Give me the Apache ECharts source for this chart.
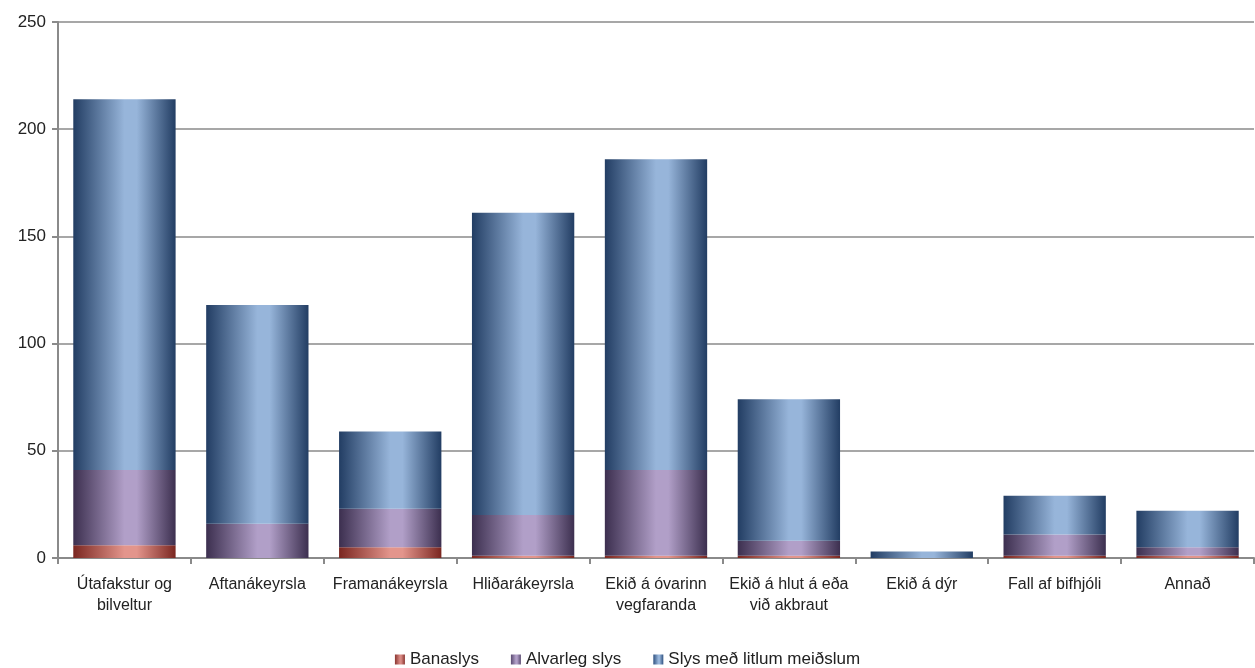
<!DOCTYPE html>
<html><head><meta charset="utf-8">
<script src="https://cdn.jsdelivr.net/npm/echarts@6/dist/echarts.min.js"></script>
<style>html,body{margin:0;padding:0;background:#fff}#c{width:1255px;height:668px}</style>
</head><body><div id="c"></div>
<script>
const categories = ['Útafakstur og\nbilveltur','Aftanákeyrsla','Framanákeyrsla','Hliðarákeyrsla','Ekið á óvarinn\nvegfaranda','Ekið á hlut á eða\nvið akbraut','Ekið á dýr','Fall af bifhjóli','Annað'];
const banaslys = [6, 0, 5, 1, 1, 1, 0, 1, 1];
const alvarleg = [35, 16, 18, 19, 40, 7, 0, 10, 4];
const litlum = [173, 102, 36, 141, 145, 66, 3, 18, 17];
const seriesNames = ['Banaslys','Alvarleg slys','Slys með litlum meiðslum'];
const yTicks = [0, 50, 100, 150, 200, 250];

function grad(edge, mid) {
  return new echarts.graphic.LinearGradient(0,0,1,0,[
    {offset:0,color:edge},{offset:0.5,color:mid},{offset:0.62,color:mid},{offset:1,color:edge}]);
}
const styles = [
  {color: grad('#7a2620','#e3958c'), legend: grad('#8a3530','#d98a84')},
  {color: grad('#3c2f4f','#b19fc8'), legend: grad('#5a4a70','#b19fc8')},
  {color: grad('#223d63','#97b5da'), legend: grad('#2f5180','#97b5da')}
];
const dataSets = [banaslys, alvarleg, litlum];
const chart = echarts.init(document.getElementById('c'));
chart.setOption({
  animation:false,
  textStyle:{fontFamily:'Liberation Sans, Arial, sans-serif'},
  grid:{left:58,right:1,top:22,bottom:110,containLabel:false},
  legend:{top:646,left:'center',icon:'rect',itemWidth:10,itemHeight:10,itemGap:32,
    textStyle:{fontSize:17,color:'#222',fontFamily:'Liberation Sans, Arial, sans-serif'},
    data:seriesNames.map((n,i)=>({name:n,itemStyle:{color:styles[i].legend}}))},
  xAxis:{type:'category',data:categories,
    axisLine:{lineStyle:{color:'#8a8a8a',width:2}},
    axisTick:{show:true,length:6,lineStyle:{color:'#8a8a8a',width:2}},
    axisLabel:{fontSize:16,color:'#222',margin:16,lineHeight:21,interval:0}},
  yAxis:{type:'value',min:yTicks[0],max:yTicks[yTicks.length-1],interval:50,
    axisLine:{show:true,lineStyle:{color:'#8a8a8a',width:2}},
    axisTick:{show:true,length:6,lineStyle:{color:'#8a8a8a',width:2}},
    splitLine:{lineStyle:{color:'#8a8a8a',width:1.5}},
    axisLabel:{fontSize:17,color:'#222',margin:12}},
  series:dataSets.map((d,i)=>({
    name:seriesNames[i],type:'bar',stack:'s',barWidth:'77%',
    itemStyle:{color:styles[i].color},data:d
  }))
});
</script></body></html>
